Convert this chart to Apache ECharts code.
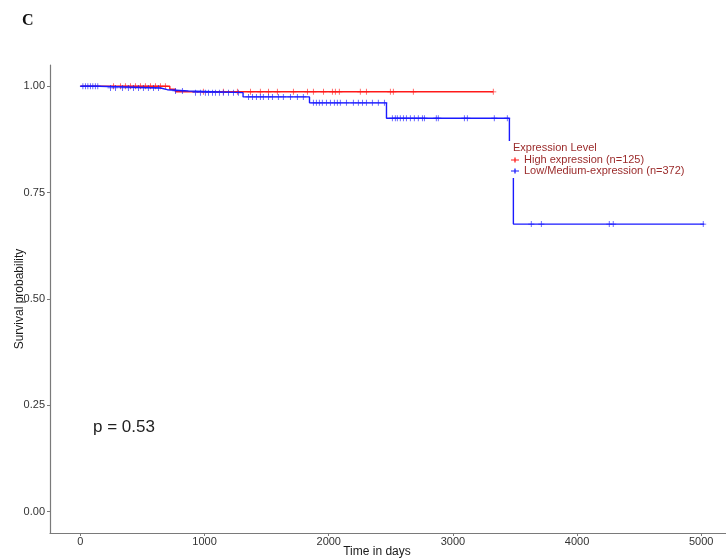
<!DOCTYPE html>
<html>
<head>
<meta charset="utf-8">
<script src="https://cdn.jsdelivr.net/npm/echarts@6/dist/echarts.min.js"></script>
<style>
html,body{margin:0;padding:0;background:#fff;}
#chart{width:726px;height:560px;}
</style>
</head>
<body>
<div id="chart"></div>
<script>
// ---- data ----
const highName = 'High expression (n=125)';
const lowName = 'Low/Medium-expression (n=372)';

// Kaplan–Meier step points: event times (days) and survival after each event
const highTimes = [0, 720, 765, 3325];
const highSurv  = [1.0, 0.993, 0.987, 0.987];
const highCensor = [266, 322, 362, 403, 443, 483, 523, 564, 604, 644, 684,
  990, 1151, 1264, 1369, 1449, 1514, 1586, 1715, 1828, 1876, 1957, 2029, 2053,
  2085, 2254, 2303, 2496, 2520, 2681, 3325];

const lowTimes = [0, 150, 645, 700, 870, 1310, 1845, 2465, 3455, 3487, 5024];
const lowSurv  = [1.0, 0.996, 0.992, 0.989, 0.985, 0.975, 0.961, 0.925, 0.83, 0.676, 0.676];
const lowCensor = [20, 40, 60, 80, 100, 120, 140, 242, 282, 338, 386, 427, 467,
  507, 547, 588, 628, 765, 821, 926, 966, 1006, 1031, 1063, 1087, 1119, 1151,
  1192, 1232, 1272, 1353, 1385, 1417, 1449, 1473, 1514, 1546, 1594, 1634, 1691,
  1747, 1795, 1876, 1900, 1924, 1948, 1981, 2013, 2045, 2069, 2093, 2142, 2198,
  2238, 2271, 2303, 2351, 2399, 2448, 2512, 2536, 2552, 2576, 2601, 2625, 2657,
  2689, 2721, 2754, 2770, 2866, 2882, 3092, 3116, 3333, 3438, 3631, 3712, 4259,
  4291, 5016];

const xTicks = [0, 1000, 2000, 3000, 4000, 5000];
const yTicks = [0, 0.25, 0.5, 0.75, 1.0];
const pText = 'p = 0.53';
const legendTitle = 'Expression Level';

// ---- helpers ----
function stepData(times, surv) { return times.map((t, i) => [t, surv[i]]); }
function survAt(times, surv, t) {
  let s = surv[0];
  for (let i = 0; i < times.length; i++) { if (times[i] <= t) s = surv[i]; }
  return s;
}
function censorData(cens, times, surv) { return cens.map(t => [t, survAt(times, surv, t)]); }

const RED = '#ff1a1a', BLUE = '#1a1aff';
const plus = 'path://M0,2.6H6V3.4H0Z M2.6,0H3.4V6H2.6Z';
const legendIcon = 'path://M0,3H10V4H0Z M4.2,0.5H5.8V6.5H4.2Z';
const FONT = '"Liberation Sans", Arial, sans-serif';

const chart = echarts.init(document.getElementById('chart'), null, {renderer: 'canvas'});
chart.setOption({
  backgroundColor: '#ffffff',
  animation: false,
  grid: {left: 50, top: 65, width: 686, height: 468, containLabel: false, outerBoundsMode: 'none'},
  xAxis: {
    type: 'value', min: -245, max: 5280,
    name: 'Time in days', nameLocation: 'middle', nameGap: 13, nameMoveOverlap: false,
    nameTextStyle: {color: '#1a1a1a', fontSize: 12, fontFamily: FONT, padding: [0, 32, 0, 0]},
    axisLine: {show: true, onZero: false, lineStyle: {color: '#7a7a7a', width: 1.2}},
    axisTick: {show: true, customValues: xTicks, length: 3, lineStyle: {color: '#7a7a7a'}},
    axisLabel: {customValues: xTicks, color: '#333', fontSize: 11, fontFamily: FONT, margin: 3,
      formatter: v => String(v)},
    splitLine: {show: false}
  },
  yAxis: {
    type: 'value', min: -0.05, max: 1.05,
    name: 'Survival probability', nameLocation: 'middle', nameGap: 24, nameMoveOverlap: false,
    nameTextStyle: {color: '#1a1a1a', fontSize: 12, fontFamily: FONT},
    axisLine: {show: true, onZero: false, lineStyle: {color: '#7a7a7a', width: 1.2}},
    axisTick: {show: true, customValues: yTicks, length: 3, lineStyle: {color: '#7a7a7a'}},
    axisLabel: {customValues: yTicks, color: '#333', fontSize: 11, fontFamily: FONT, margin: 5,
      formatter: v => v.toFixed(2)},
    splitLine: {show: false}
  },
  legend: {
    data: [highName, lowName],
    orient: 'vertical', left: 511, top: 154.5, z: 101, padding: 0,
    itemWidth: 8, itemHeight: 7, itemGap: 0,
    icon: legendIcon,
    textStyle: {color: '#9b2b2b', fontSize: 11, fontFamily: FONT, lineHeight: 11}
  },
  graphic: [
    {type: 'rect', z: 100, shape: {x: 508, y: 141, width: 175, height: 37}, style: {fill: '#ffffff'}},
    {type: 'text', z: 101, x: 513, y: 148, style: {text: legendTitle, fill: '#9b2b2b', fontSize: 11, fontFamily: FONT, verticalAlign: 'middle'}},
    {type: 'text', z: 101, x: 22, y: 21, style: {text: 'C', fill: '#111', fontSize: 16, fontWeight: 'bold', fontFamily: '"Liberation Serif", "Times New Roman", serif', verticalAlign: 'middle'}},
    {type: 'text', z: 101, x: 93, y: 427, style: {text: pText, fill: '#222', fontSize: 17, fontFamily: FONT, verticalAlign: 'middle'}}
  ],
  series: [
    {name: highName, type: 'line', step: 'end', data: stepData(highTimes, highSurv),
      showSymbol: false, symbol: 'none', color: RED, lineStyle: {color: RED, width: 1.4}, z: 2},
    {name: lowName, type: 'line', step: 'end', data: stepData(lowTimes, lowSurv),
      showSymbol: false, symbol: 'none', color: BLUE, lineStyle: {color: BLUE, width: 1.4}, z: 3},
    {name: highName + ' censor', type: 'scatter', data: censorData(highCensor, highTimes, highSurv),
      symbol: plus, symbolSize: 6, itemStyle: {color: RED}, z: 2},
    {name: lowName + ' censor', type: 'scatter', data: censorData(lowCensor, lowTimes, lowSurv),
      symbol: plus, symbolSize: 6, itemStyle: {color: BLUE}, z: 3}
  ]
});
</script>
</body>
</html>
